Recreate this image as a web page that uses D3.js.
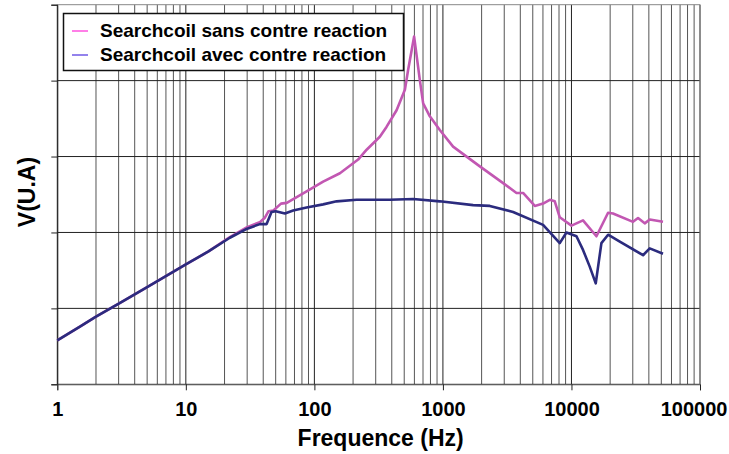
<!DOCTYPE html>
<html>
<head>
<meta charset="utf-8">
<script src="https://cdn.jsdelivr.net/npm/d3@7"></script>
<style>
  html, body { margin: 0; padding: 0; background: #fff; }
  svg { display: block; }
  text { font-family: "Liberation Sans", Arial, sans-serif; font-weight: bold; fill: #000; }
</style>
</head>
<body>
<svg id="chart" width="729" height="454"></svg>
<script>
// Frequency response of the search coil, with and without feedback
const xTickLabels = ["1", "10", "100", "1000", "10000", "100000"];
const yGridValues = [0, 1, 2, 3, 4, 5];

const sansFreq = [1, 1.5, 2, 3.2, 5, 10, 15, 22, 30, 38, 41, 44, 48, 55, 61, 87, 117, 158, 219, 255, 323, 364, 436, 506, 536, 597, 661, 702, 791, 946, 1200, 1937, 2940, 3735, 4205, 5185, 6015, 6780, 7415, 8110, 10000, 12300, 15640, 19270, 21050, 30130, 32960, 37150, 40630, 51560];
const sansV = [0.58, 0.76, 0.89, 1.09, 1.28, 1.58, 1.75, 1.94, 2.07, 2.14, 2.19, 2.28, 2.29, 2.38, 2.39, 2.54, 2.67, 2.78, 2.96, 3.09, 3.26, 3.39, 3.61, 3.88, 4.14, 4.58, 4.01, 3.70, 3.53, 3.35, 3.13, 2.87, 2.65, 2.52, 2.52, 2.35, 2.38, 2.43, 2.41, 2.20, 2.09, 2.16, 1.95, 2.26, 2.25, 2.14, 2.19, 2.12, 2.17, 2.14];

const avecFreq = [1, 1.5, 2, 3.2, 5, 10, 15, 22, 30, 37.7, 42.5, 46.4, 50, 59, 68.4, 87, 117, 149, 213, 386, 587, 946, 1718, 2315, 3515, 6015, 8110, 9140, 10940, 12300, 13870, 15450, 17100, 19270, 23770, 36060, 40630, 51560];
const avecV = [0.58, 0.76, 0.89, 1.09, 1.28, 1.58, 1.75, 1.93, 2.05, 2.11, 2.11, 2.27, 2.28, 2.25, 2.29, 2.33, 2.37, 2.41, 2.43, 2.43, 2.44, 2.41, 2.36, 2.35, 2.27, 2.10, 1.86, 2.00, 1.95, 1.77, 1.55, 1.33, 1.86, 1.97, 1.88, 1.70, 1.79, 1.72];

const seriesNames = ["Searchcoil sans contre reaction", "Searchcoil avec contre reaction"];
const lineColors = ["#c257b2", "#2b2b7e"];
const legendColors = ["#ff2ad8", "#4a2ee0"];

const svg = d3.select("#chart");
const margin = { left: 57.3, right: 29, top: 4.7, bottom: 69.7 };
const W = 729, H = 454;
const x0 = margin.left, x1 = W - margin.right, y0 = margin.top, y1 = H - margin.bottom;

const x = d3.scaleLog().domain([1, 100000]).range([x0, x1]);
const y = d3.scaleLinear().domain([0, 5]).range([y1, y0]);

// vertical grid: every 1..9 within each decade
const minorTicks = [];
for (let d = 1; d < 100000; d *= 10) {
  for (let k = 1; k < 10; k++) minorTicks.push(d * k);
}
minorTicks.push(100000);

const grid = svg.append("g");
grid.selectAll("line.v").data(minorTicks).join("line")
  .attr("x1", d => x(d)).attr("x2", d => x(d))
  .attr("y1", y0).attr("y2", y1)
  .attr("stroke", d => Math.abs(Math.log10(d) - Math.round(Math.log10(d))) < 1e-9 ? "#222" : "#555")
  .attr("stroke-width", 1);

grid.selectAll("line.h").data(yGridValues).join("line")
  .attr("x1", x0).attr("x2", x1)
  .attr("y1", d => y(d)).attr("y2", d => y(d))
  .attr("stroke", d => d === 5 ? "#888" : "#222")
  .attr("stroke-width", 1);

// left axis: tick marks only
const yAxis = d3.axisLeft(y).tickValues(yGridValues).tickSize(6).tickFormat("");
const gy = svg.append("g").attr("transform", `translate(${x0},0)`).call(yAxis);
gy.selectAll("line, path").attr("stroke", "#222");

// bottom axis: ticks at each decade
const xAxis = d3.axisBottom(x).tickValues(xTickLabels.map(Number)).tickSize(6)
  .tickFormat((d, i) => xTickLabels[i]);
const gx = svg.append("g").attr("transform", `translate(0,${y1})`).call(xAxis);
gx.select("path").attr("stroke", "#666");
gx.selectAll(".tick line").attr("stroke", "#222");
gx.selectAll(".tick text")
  .attr("y", 18).attr("dy", "0.71em")
  .style("font-family", "'Liberation Sans', Arial, sans-serif")
  .style("font-weight", "bold").style("font-size", "20px").attr("fill", "#000");
// keep the last label inside the window
gx.selectAll(".tick text").filter((d, i, n) => i === n.length - 1)
  .attr("text-anchor", "end").attr("x", W - 2 - x1);

// right border of the plot area
svg.append("line").attr("x1", x1).attr("x2", x1).attr("y1", y0).attr("y2", y1)
  .attr("stroke", "#888");

// curves
const line = d3.line().x(d => x(d[0])).y(d => y(d[1]));
const sans = sansFreq.map((f, i) => [f, sansV[i]]);
const avec = avecFreq.map((f, i) => [f, avecV[i]]);
svg.append("path").datum(sans).attr("d", line)
  .attr("fill", "none").attr("stroke", lineColors[0]).attr("stroke-width", 2.6)
  .attr("stroke-linejoin", "round");
svg.append("path").datum(avec).attr("d", line)
  .attr("fill", "none").attr("stroke", lineColors[1]).attr("stroke-width", 2.6)
  .attr("stroke-linejoin", "round");

// axis titles
svg.append("text").attr("x", (x0 + x1) / 2 + 2).attr("y", 446)
  .attr("text-anchor", "middle").style("font-size", "23px").text("Frequence (Hz)");
svg.append("text").attr("transform", "translate(35,192) rotate(-90)")
  .attr("text-anchor", "middle").style("font-size", "23px").text("V(U.A)");

// legend
const lg = svg.append("g");
lg.append("rect").attr("x", 63.5).attr("y", 13.5).attr("width", 340).attr("height", 57)
  .attr("fill", "#fff").attr("stroke", "#111").attr("stroke-width", 1.5);
seriesNames.forEach((name, i) => {
  const yy = 31 + i * 24;
  lg.append("line").attr("x1", 72).attr("x2", 88).attr("y1", yy).attr("y2", yy)
    .attr("stroke", legendColors[i]).attr("stroke-width", 1.2);
  lg.append("text").attr("x", 100).attr("y", yy + 6)
    .style("font-size", "19px").text(name);
});
</script>
</body>
</html>
